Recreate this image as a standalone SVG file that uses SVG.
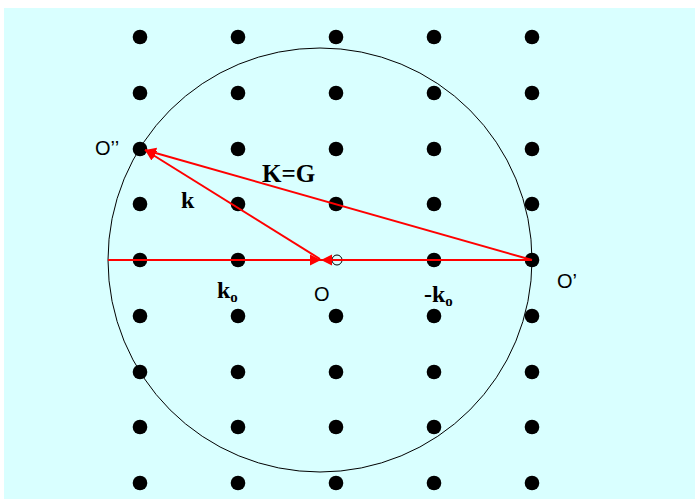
<svg xmlns="http://www.w3.org/2000/svg" width="695" height="499" viewBox="0 0 695 499">
<style>
.dot{fill:#000}
.vec{stroke:#ff0000;stroke-width:2;fill:none}
.lbl{font-family:"Liberation Sans",Arial,sans-serif;font-size:20px;fill:#000}
.sym{font-family:"Liberation Serif","Times New Roman",serif;font-weight:bold;fill:#000}
</style>
<defs>
<marker id="ah" markerUnits="userSpaceOnUse" markerWidth="12" markerHeight="12" viewBox="0 0 12 12" refX="11" refY="6" orient="auto">
<path d="M0,0.5 L11,6 L0,11.5 Z" fill="#ff0000"/>
</marker>
</defs>
<rect x="4" y="8" width="691" height="491" fill="#d9ffff"/>
<g id="lattice">
<g id="row1"><circle class="dot" cx="140" cy="37" r="7.3"/><circle class="dot" cx="238" cy="37" r="7.3"/><circle class="dot" cx="336" cy="37" r="7.3"/><circle class="dot" cx="434" cy="37" r="7.3"/><circle class="dot" cx="532" cy="37" r="7.3"/></g>
<g id="row2"><circle class="dot" cx="140" cy="93" r="7.3"/><circle class="dot" cx="238" cy="93" r="7.3"/><circle class="dot" cx="336" cy="93" r="7.3"/><circle class="dot" cx="434" cy="93" r="7.3"/><circle class="dot" cx="532" cy="93" r="7.3"/></g>
<g id="row3"><circle class="dot" cx="140" cy="149" r="7.3"/><circle class="dot" cx="238" cy="149" r="7.3"/><circle class="dot" cx="336" cy="149" r="7.3"/><circle class="dot" cx="434" cy="149" r="7.3"/><circle class="dot" cx="532" cy="149" r="7.3"/></g>
<g id="row4"><circle class="dot" cx="140" cy="204" r="7.3"/><circle class="dot" cx="238" cy="204" r="7.3"/><circle class="dot" cx="336" cy="204" r="7.3"/><circle class="dot" cx="434" cy="204" r="7.3"/><circle class="dot" cx="532" cy="204" r="7.3"/></g>
<g id="row5"><circle class="dot" cx="140" cy="260" r="7.3"/><circle class="dot" cx="238" cy="260" r="7.3"/><circle cx="337" cy="260" r="5" fill="none" stroke="#000" stroke-width="1"/><circle class="dot" cx="434" cy="260" r="7.3"/><circle class="dot" cx="532" cy="260" r="7.3"/></g>
<g id="row6"><circle class="dot" cx="140" cy="316" r="7.3"/><circle class="dot" cx="238" cy="316" r="7.3"/><circle class="dot" cx="336" cy="316" r="7.3"/><circle class="dot" cx="434" cy="316" r="7.3"/><circle class="dot" cx="532" cy="316" r="7.3"/></g>
<g id="row7"><circle class="dot" cx="140" cy="372" r="7.3"/><circle class="dot" cx="238" cy="372" r="7.3"/><circle class="dot" cx="336" cy="372" r="7.3"/><circle class="dot" cx="434" cy="372" r="7.3"/><circle class="dot" cx="532" cy="372" r="7.3"/></g>
<g id="row8"><circle class="dot" cx="140" cy="427" r="7.3"/><circle class="dot" cx="238" cy="427" r="7.3"/><circle class="dot" cx="336" cy="427" r="7.3"/><circle class="dot" cx="434" cy="427" r="7.3"/><circle class="dot" cx="532" cy="427" r="7.3"/></g>
<g id="row9"><circle class="dot" cx="140" cy="483" r="7.3"/><circle class="dot" cx="238" cy="483" r="7.3"/><circle class="dot" cx="336" cy="483" r="7.3"/><circle class="dot" cx="434" cy="483" r="7.3"/><circle class="dot" cx="532" cy="483" r="7.3"/></g>
</g>
<g id="ewald"><circle cx="320" cy="260" r="212" fill="none" stroke="#000" stroke-width="1"/></g>
<g id="connectors">
<line id="k0" class="vec" x1="108" y1="260" x2="321" y2="260" marker-end="url(#ah)"/>
<line id="mk0" class="vec" x1="532" y1="260" x2="321" y2="260" marker-end="url(#ah)"/>
<line id="k" class="vec" x1="320" y1="259" x2="145" y2="150" marker-end="url(#ah)"/>
<line id="KG" class="vec" x1="532" y1="260" x2="145" y2="150" marker-end="url(#ah)"/>
</g>
<g id="labels">
<text class="lbl" x="95" y="155">O’’</text>
<text class="lbl" x="557" y="288">O’</text>
<text class="lbl" x="314" y="301">O</text>
<text class="sym" x="262" y="182" font-size="25">K=G</text>
<text class="sym" x="181" y="208" font-size="24">k</text>
<text class="sym" x="217" y="298" font-size="24">k<tspan font-size="15" dy="4">o</tspan></text>
<text class="sym" x="424" y="302" font-size="24">-k<tspan font-size="15" dy="4">o</tspan></text>
</g>
</svg>
